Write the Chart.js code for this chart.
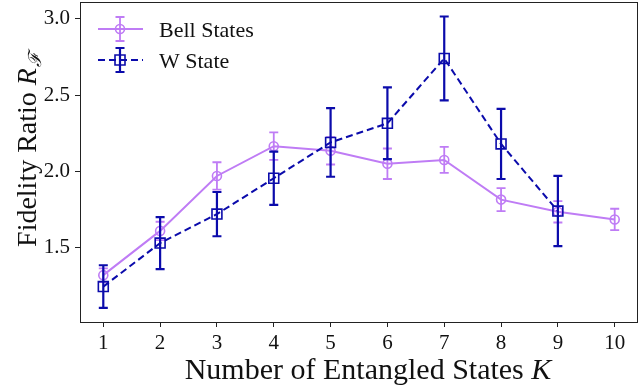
<!DOCTYPE html>
<html>
<head>
<meta charset="utf-8">
<script src="https://cdn.jsdelivr.net/npm/chart.js@4"></script>
<style>
  body { margin: 0; background: #fff; }
  canvas { display: block; }
</style>
</head>
<body>
<canvas id="c" width="639" height="392"></canvas>
<script>
// data
const kValues = [1, 2, 3, 4, 5, 6, 7, 8, 9, 10];
const bellMean = [1.32, 1.61, 1.97, 2.165, 2.135, 2.05, 2.075, 1.815, 1.735, 1.685];
const bellErr  = [0.045, 0.06, 0.09, 0.09, 0.09, 0.10, 0.085, 0.075, 0.07, 0.07];
const wK    = [1, 2, 3, 4, 5, 6, 7, 8, 9];
const wMean = [1.245, 1.53, 1.72, 1.955, 2.19, 2.315, 2.74, 2.18, 1.74];
const wErr  = [0.14, 0.17, 0.145, 0.175, 0.225, 0.235, 0.275, 0.23, 0.23];
const xTicks = [1, 2, 3, 4, 5, 6, 7, 8, 9, 10];
const yTicks = [1.5, 2.0, 2.5, 3.0];

const FONT = "'Liberation Serif', 'DejaVu Serif', serif";
const PURPLE = '#bf7cf5';
const BLUE = '#0b0bab';

const pts = (xs, ys) => xs.map((x, i) => ({ x: x, y: ys[i] }));

// error bars drawn under each dataset's markers
const errorBars = {
  id: 'errorBars',
  beforeDatasetDraw(chart, args) {
    const ds = chart.data.datasets[args.index];
    if (!ds.errors) return;
    const { ctx, scales: { x, y } } = chart;
    ctx.save();
    ctx.strokeStyle = ds.borderColor;
    ctx.lineWidth = ds.errWidth;
    ctx.setLineDash([]);
    ds.data.forEach((p, j) => {
      const px = x.getPixelForValue(p.x);
      const top = y.getPixelForValue(p.y + ds.errors[j]);
      const bot = y.getPixelForValue(p.y - ds.errors[j]);
      ctx.beginPath();
      ctx.moveTo(px, top); ctx.lineTo(px, bot);
      ctx.moveTo(px - 4.5, top); ctx.lineTo(px + 4.5, top);
      ctx.moveTo(px - 4.5, bot); ctx.lineTo(px + 4.5, bot);
      ctx.stroke();
    });
    ctx.restore();
  }
};

// frame, legend and axis titles
const decor = {
  id: 'decor',
  afterDraw(chart) {
    const { ctx, chartArea: a } = chart;
    ctx.save();
    ctx.strokeStyle = '#222';
    ctx.lineWidth = 1;
    ctx.strokeRect(a.left + 0.5, a.top + 0.5, a.right - a.left - 1, a.bottom - a.top);

    // legend
    const rows = [
      { ds: chart.data.datasets[1], y: 29 },
      { ds: chart.data.datasets[0], y: 60 }
    ];
    rows.forEach(r => {
      const ds = r.ds;
      ctx.strokeStyle = ds.borderColor;
      ctx.lineWidth = ds.borderWidth;
      ctx.setLineDash(ds.borderDash || []);
      ctx.beginPath(); ctx.moveTo(98, r.y); ctx.lineTo(143, r.y); ctx.stroke();
      ctx.setLineDash([]);
      ctx.lineWidth = ds.errWidth;
      ctx.beginPath();
      ctx.moveTo(120, r.y - 12); ctx.lineTo(120, r.y + 12);
      ctx.moveTo(115.5, r.y - 12); ctx.lineTo(124.5, r.y - 12);
      ctx.moveTo(115.5, r.y + 12); ctx.lineTo(124.5, r.y + 12);
      ctx.stroke();
      ctx.lineWidth = 1.6;
      ctx.beginPath();
      if (ds.pointStyle === 'circle') ctx.arc(120, r.y, 4.5, 0, Math.PI * 2);
      else ctx.rect(115, r.y - 5, 10, 10);
      ctx.stroke();
      ctx.fillStyle = '#111';
      ctx.font = '22px ' + FONT;
      ctx.textBaseline = 'alphabetic';
      ctx.fillText(ds.label, 159, r.y + 8);
    });

    // x title
    ctx.fillStyle = '#111';
    const f1 = '30px ' + FONT, f2 = 'italic 30px ' + FONT;
    const t1 = 'Number of Entangled States ', t2 = 'K';
    ctx.font = f1; const w1 = ctx.measureText(t1).width;
    ctx.font = f2; const w2 = ctx.measureText(t2).width;
    let sx = 368 - (w1 + w2) / 2;
    ctx.font = f1; ctx.fillText(t1, sx, 379);
    ctx.font = f2; ctx.fillText(t2, sx + w1, 379);

    // y title
    ctx.translate(36, 150);
    ctx.rotate(-Math.PI / 2);
    const g1 = '28px ' + FONT, g2 = 'italic 28px ' + FONT, g3 = 'italic 18px ' + FONT;
    const s1 = 'Fidelity Ratio ', s2 = 'R', s3 = '\u2131';
    ctx.font = g1; const v1 = ctx.measureText(s1).width;
    ctx.font = g2; const v2 = ctx.measureText(s2).width;
    ctx.font = g3; const v3 = ctx.measureText(s3).width;
    let sy = -(v1 + v2 + v3) / 2;
    ctx.font = g1; ctx.fillText(s1, sy, 0);
    ctx.font = g2; ctx.fillText(s2, sy + v1, 0);
    ctx.font = g3; ctx.fillText(s3, sy + v1 + v2 + 1, 5);
    ctx.restore();
  }
};

new Chart(document.getElementById('c'), {
  type: 'line',
  data: {
    datasets: [
      {
        label: 'W State', data: pts(wK, wMean), errors: wErr, order: 0,
        borderColor: BLUE, backgroundColor: 'rgba(0,0,0,0)', borderWidth: 2,
        borderDash: [7, 4], pointStyle: 'rect', pointRadius: 7, pointBorderWidth: 1.6,
        pointBackgroundColor: 'rgba(0,0,0,0)', errWidth: 2.2, tension: 0
      },
      {
        label: 'Bell States', data: pts(kValues, bellMean), errors: bellErr, order: 1,
        borderColor: PURPLE, backgroundColor: 'rgba(0,0,0,0)', borderWidth: 2,
        pointStyle: 'circle', pointRadius: 4.5, pointBorderWidth: 1.6,
        pointBackgroundColor: 'rgba(0,0,0,0)', errWidth: 1.8, tension: 0
      }
    ]
  },
  options: {
    responsive: false,
    animation: false,
    layout: { autoPadding: false, padding: { top: 2, right: 1, left: 0, bottom: 0 } },
    plugins: { legend: { display: false }, tooltip: { enabled: false } },
    scales: {
      x: {
        type: 'linear', min: 0.59, max: 10.41,
        afterBuildTicks: s => { s.ticks = xTicks.map(v => ({ value: v })); },
        afterFit: s => { s.height = 70; s.paddingLeft = 0; s.paddingRight = 0; },
        grid: { drawOnChartArea: false, drawTicks: true, tickLength: 5, tickColor: '#222' },
        border: { display: false },
        ticks: { color: '#111', font: { family: FONT, size: 21 }, padding: 4, maxRotation: 0, autoSkip: false }
      },
      y: {
        type: 'linear', min: 1.013, max: 3.11,
        afterBuildTicks: s => { s.ticks = yTicks.map(v => ({ value: v })); },
        afterFit: s => { s.width = 80; s.paddingTop = 0; s.paddingBottom = 0; },
        grid: { drawOnChartArea: false, drawTicks: true, tickLength: 5, tickColor: '#222' },
        border: { display: false },
        ticks: { color: '#111', font: { family: FONT, size: 21 }, padding: 5,
                 callback: v => v.toFixed(1) }
      }
    }
  },
  plugins: [errorBars, decor]
});
</script>
</body>
</html>
